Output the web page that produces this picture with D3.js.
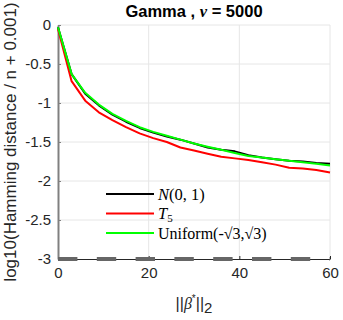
<!DOCTYPE html>
<html>
<head>
<meta charset="utf-8">
<script src="https://cdn.jsdelivr.net/npm/d3@7"></script>
<style>
    body { margin: 0; background: #fff; }
    svg { display: block; }
    .tick text { font-family: "Liberation Sans", Arial, sans-serif; font-size: 15px; fill: #262626; }
</style>
</head>
<body>
<div id="chart"></div>
<script>
// beta norm values (x)
const betaNorm = [0, 3, 6, 9, 12, 15, 18, 21, 24, 27, 30, 33, 36, 39, 42, 45, 48, 51, 54, 57, 60];

// log10(Hamming distance / n + 0.001) per noise type
const normalSeries = [-0.03, -0.63, -0.88, -1.03, -1.15, -1.24, -1.32, -1.38, -1.43, -1.47, -1.52, -1.57, -1.60, -1.62, -1.67, -1.70, -1.72, -1.74, -1.75, -1.77, -1.78];
const tSeries = [-0.05, -0.72, -0.97, -1.12, -1.22, -1.31, -1.39, -1.45, -1.50, -1.57, -1.61, -1.65, -1.69, -1.71, -1.73, -1.76, -1.79, -1.83, -1.84, -1.86, -1.89];
const uniformSeries = [-0.03, -0.63, -0.87, -1.02, -1.14, -1.23, -1.31, -1.37, -1.42, -1.47, -1.52, -1.56, -1.60, -1.64, -1.68, -1.70, -1.72, -1.74, -1.76, -1.78, -1.80];

// reference line at the bottom
const refX = [0, 60];
const refY = [-3, -3];

const xTicks = [0, 20, 40, 60];
const yTicks = [0, -0.5, -1, -1.5, -2, -2.5, -3];

const WIDTH = 343;
const HEIGHT = 320;
const MARGIN = { left: 58, right: 13, top: 25, bottom: 61 };

const svg = d3.select("#chart")
    .append("svg")
    .attr("width", WIDTH)
    .attr("height", HEIGHT);

const xScale = d3.scaleLinear()
    .domain([0, 60])
    .range([MARGIN.left, WIDTH - MARGIN.right]);

const yScale = d3.scaleLinear()
    .domain([-3, 0])
    .range([HEIGHT - MARGIN.bottom, MARGIN.top]);

// Grid lines
svg.append("g")
    .selectAll("line")
    .data(xTicks.slice(1))
    .enter().append("line")
    .attr("x1", d => xScale(d)).attr("x2", d => xScale(d))
    .attr("y1", yScale(0)).attr("y2", yScale(-3))
    .attr("stroke", "#e6e6e6").attr("stroke-width", 1);

svg.append("g")
    .selectAll("line")
    .data(yTicks.slice(0, -1))
    .enter().append("line")
    .attr("x1", xScale(0)).attr("x2", xScale(60))
    .attr("y1", d => yScale(d)).attr("y2", d => yScale(d))
    .attr("stroke", "#e6e6e6").attr("stroke-width", 1);

// Axes
const xAxis = svg.append("g")
    .attr("transform", `translate(0,${yScale(-3)})`)
    .call(d3.axisBottom(xScale).tickValues(xTicks).tickSizeInner(-3).tickSizeOuter(0).tickPadding(8));
xAxis.select(".domain").attr("stroke", "#262626");
xAxis.selectAll(".tick line").attr("stroke", "#262626");

const yAxis = svg.append("g")
    .attr("transform", `translate(${xScale(0)},0)`)
    .call(d3.axisLeft(yScale).tickValues(yTicks).tickSizeInner(-3).tickSizeOuter(0).tickPadding(7)
        .tickFormat(d => d === 0 ? "0" : String(d)));
yAxis.select(".domain").attr("stroke", "#808080").attr("stroke-width", 2);
yAxis.selectAll(".tick line").attr("stroke", "#808080");

// Reference dashed line
const line = d3.line()
    .x(d => xScale(d[0]))
    .y(d => yScale(d[1]));

svg.append("path")
    .datum(refX.map((x, i) => [x, refY[i]]))
    .attr("d", line)
    .attr("fill", "none")
    .attr("stroke", "#666666")
    .attr("stroke-width", 4)
    .attr("stroke-dasharray", "19.4,19.4");

// Data lines
const series = [
    { name: "normal", values: normalSeries, color: "#000000" },
    { name: "t", values: tSeries, color: "#ff0000" },
    { name: "uniform", values: uniformSeries, color: "#00ff00" }
];

series.forEach(s => {
    svg.append("path")
        .datum(betaNorm.map((x, i) => [x, s.values[i]]))
        .attr("d", line)
        .attr("fill", "none")
        .attr("stroke", s.color)
        .attr("stroke-width", 2)
        .attr("stroke-linejoin", "round");
});

// Legend
const legend = svg.append("g").attr("transform", "translate(106,194)");
const legendRows = [
    { color: "#000000", y: 0 },
    { color: "#ff0000", y: 19.5 },
    { color: "#00ff00", y: 39 }
];
legend.selectAll("line")
    .data(legendRows)
    .enter().append("line")
    .attr("x1", 0).attr("x2", 48)
    .attr("y1", d => d.y).attr("y2", d => d.y)
    .attr("stroke", d => d.color)
    .attr("stroke-width", 2);

const serif = "'Liberation Serif', 'DejaVu Serif', serif";
const t1 = legend.append("text").attr("x", 52).attr("y", 5.5).attr("font-family", serif).attr("font-size", 16.5).attr("fill", "#000");
t1.append("tspan").attr("font-style", "italic").text("N");
t1.append("tspan").text("(0, 1)");

const t2 = legend.append("text").attr("x", 52).attr("y", 25).attr("font-family", serif).attr("font-size", 16.5).attr("fill", "#000");
t2.append("tspan").attr("font-style", "italic").text("T");
t2.append("tspan").attr("font-size", 11).attr("dy", 3).text("5");

legend.append("text").attr("x", 52).attr("y", 44.5).attr("font-family", serif).attr("font-size", 16).attr("fill", "#000")
    .text("Uniform(-√3,√3)");

// Title
const title = svg.append("text")
    .attr("x", (xScale(0) + xScale(60)) / 2)
    .attr("y", 17)
    .attr("text-anchor", "middle")
    .attr("font-family", "'Liberation Sans', Arial, sans-serif")
    .attr("font-size", 16.5)
    .attr("font-weight", "bold")
    .attr("fill", "#000");
title.append("tspan").text("Gamma , ");
title.append("tspan").attr("font-family", serif).attr("font-style", "italic").text("ν");
title.append("tspan").text(" = 5000");

// X-axis label
const xLabel = svg.append("text")
    .attr("x", (xScale(0) + xScale(60)) / 2)
    .attr("y", 309)
    .attr("text-anchor", "middle")
    .attr("font-family", "'Liberation Sans', Arial, sans-serif")
    .attr("font-size", 16)
    .attr("fill", "#262626");
xLabel.append("tspan").text("||");
xLabel.append("tspan").attr("font-family", serif).attr("font-style", "italic").text("β");
xLabel.append("tspan").attr("font-size", 10).attr("dy", -7).text("*");
xLabel.append("tspan").attr("dy", 7).text("||");
xLabel.append("tspan").attr("font-size", 15).attr("dy", 4).text("2");

// Y-axis label
svg.append("text")
    .attr("transform", `translate(16,${(yScale(0) + yScale(-3)) / 2})rotate(-90)`)
    .attr("text-anchor", "middle")
    .attr("font-family", "'Liberation Sans', Arial, sans-serif")
    .attr("font-size", 17)
    .attr("fill", "#262626")
    .text("log10(Hamming distance / n + 0.001)");
</script>
</body>
</html>
